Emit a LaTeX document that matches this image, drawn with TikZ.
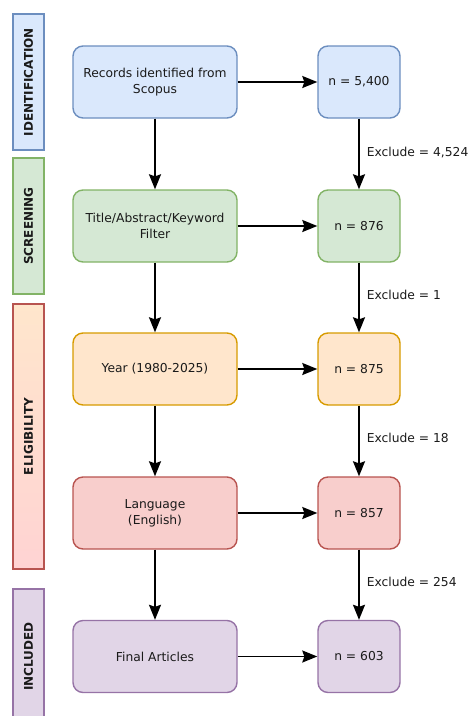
\documentclass[tikz,border=0pt]{standalone}
\usepackage{fontspec}
\setmainfont{DejaVu Sans}
\usetikzlibrary{arrows.meta}
\definecolor{bluef}{HTML}{DAE8FC}\definecolor{blues}{HTML}{6C8EBF}
\definecolor{greenf}{HTML}{D5E8D4}\definecolor{greens}{HTML}{82B366}
\definecolor{orangef}{HTML}{FFE6CC}\definecolor{oranges}{HTML}{D79B00}
\definecolor{redf}{HTML}{F8CECC}\definecolor{reds}{HTML}{B85450}
\definecolor{pinkf}{HTML}{FFD3D3}
\definecolor{purplef}{HTML}{E1D5E7}\definecolor{purples}{HTML}{9673A6}
\definecolor{txt}{HTML}{1A1A1A}
\begin{document}
\begin{tikzpicture}[x=1pt,y=-1pt,
  box/.style={draw, rounded corners=10pt, line width=1.4pt, align=center, inner sep=0pt,
    text=txt, font=\fontsize{12.3}{16}\selectfont},
  lbox/.style={box, minimum width=164pt, minimum height=72pt},
  rbox/.style={box, minimum width=82pt, minimum height=72pt},
  bar/.style={draw, line width=1.4pt, inner sep=0pt, minimum width=31pt,
    font=\bfseries\fontsize{12}{14}\selectfont, text=txt},
  arr/.style={line width=1.6pt, -{Stealth[length=15pt,width=12pt,inset=2pt]}},
  exlabel/.style={anchor=west, inner sep=0pt, xshift=7pt, yshift=3pt, text=txt,
    font=\fontsize{12.3}{14}\selectfont}]
\useasboundingbox (0,0) rectangle (468,716);
\clip (0,0) rectangle (468,716);

% phase bars
\node[bar, fill=bluef, draw=blues, minimum height=136pt] (bid) at (28.5,82) {\rotatebox{90}{IDENTIFICATION}};
\node[bar, fill=greenf, draw=greens, minimum height=136pt] (bsc) at (28.5,226) {\rotatebox{90}{SCREENING}};
\node[bar, top color=orangef, bottom color=pinkf, draw=reds, minimum height=265pt] (bel) at (28.5,436.5) {\rotatebox{90}{ELIGIBILITY}};
\node[bar, fill=purplef, draw=purples, minimum height=135pt] (bin) at (28.5,656.5) {\rotatebox{90}{INCLUDED}};

% left column
\node[lbox, fill=bluef, draw=blues] (l1) at (155,82) {Records identified from\\Scopus};
\node[lbox, fill=greenf, draw=greens] (l2) at (155,226) {Title/Abstract/Keyword\\Filter};
\node[lbox, fill=orangef, draw=oranges] (l3) at (155,369) {Year (1980-2025)};
\node[lbox, fill=redf, draw=reds] (l4) at (155,513) {Language\\(English)};
\node[lbox, fill=purplef, draw=purples] (l5) at (155,656.5) {Final Articles};

% right column
\node[rbox, fill=bluef, draw=blues] (r1) at (359,82) {n = 5,400};
\node[rbox, fill=greenf, draw=greens] (r2) at (359,226) {n = 876};
\node[rbox, fill=orangef, draw=oranges] (r3) at (359,369) {n = 875};
\node[rbox, fill=redf, draw=reds] (r4) at (359,513) {n = 857};
\node[rbox, fill=purplef, draw=purples] (r5) at (359,656.5) {n = 603};

% arrows
\foreach \i in {1,...,5} {\draw[arr] (l\i) -- (r\i);}
\foreach \i/\j in {1/2,2/3,3/4,4/5} {\draw[arr] (l\i) -- (l\j);}
\draw[arr] (r1) -- node[exlabel, yshift=-2pt] {Exclude = 4,524} (r2);
\draw[arr] (r2) -- node[exlabel] {Exclude = 1} (r3);
\draw[arr] (r3) -- node[exlabel] {Exclude = 18} (r4);
\draw[arr] (r4) -- node[exlabel] {Exclude = 254} (r5);
\end{tikzpicture}
\end{document}
